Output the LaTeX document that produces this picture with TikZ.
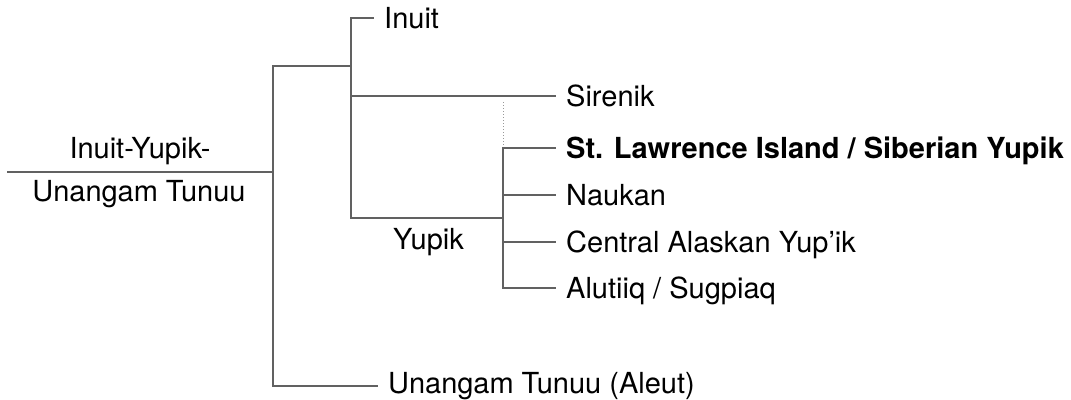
\documentclass[tikz,border=0pt]{standalone}
\usepackage{fontspec}
\setmainfont{TeX Gyre Heros}
\begin{document}
\begin{tikzpicture}[x=1pt,y=-1pt,
  branch/.style={draw=black!62, line width=1.3pt, line cap=rect},
  guess/.style={draw=black!40, line width=1pt, dotted},
  lab/.style={anchor=west, inner xsep=11pt, inner ysep=0pt,
    text height=20.8pt, text depth=0pt,
    font=\fontsize{29}{34}\selectfont},
  plain/.style={lab, inner xsep=0pt},
]
\useasboundingbox (0,0) rectangle (1071,399);

% tree junctions
\coordinate (start)  at (8,172);
\coordinate (top)    at (273,172);
\coordinate (iy)     at (351,66);
\coordinate (yupik)  at (503,218);
\coordinate (dotend) at (503,102);

% leaves
\node[lab] (inuit)   at (373,18)  {Inuit};
\node[lab] (sirenik) at (555,96)  {Sirenik};
\node[lab] (sly)     at (555,148) {\bfseries St. Lawrence Island / Siberian Yupik};
\node[lab] (naukan)  at (555,195) {Naukan};
\node[lab] (cay)     at (555,242) {Central Alaskan Yup’ik};
\node[lab] (alutiiq) at (555,288) {Alutiiq / Sugpiaq};
\node[lab] (aleut)   at (377,383) {Unangam Tunuu (Aleut)};

% group labels
\node[plain, anchor=center] (rootA) at (140,148) {Inuit-Yupik-};
\node[plain, anchor=center] (rootB) at (139,191) {Unangam Tunuu};
\node[plain] (ylab) at (393,239) {Yupik};

% root and the two main branches
\draw[branch] (start) -- (top);
\draw[branch] (top |- iy) -- (iy);
\draw[branch] (top |- iy) |- ([yshift=-3pt]aleut.west);

% Inuit-Yupik
\draw[branch] (iy |- inuit.west) -- (inuit.west);
\draw[branch] (iy |- inuit.west) -- (iy |- yupik);
\draw[branch] (iy |- sirenik.west) -- (sirenik.west);
\draw[branch] (iy |- yupik) -- (yupik);

% Yupik
\draw[guess] (dotend) -- (yupik |- sly.west);
\draw[branch] (yupik |- sly.west) -- (sly.west);
\draw[branch] (yupik |- sly.west) |- (alutiiq.west);
\draw[branch] (yupik |- naukan.west) -- (naukan.west);
\draw[branch] (yupik |- cay.west) -- (cay.west);
\end{tikzpicture}
\end{document}
